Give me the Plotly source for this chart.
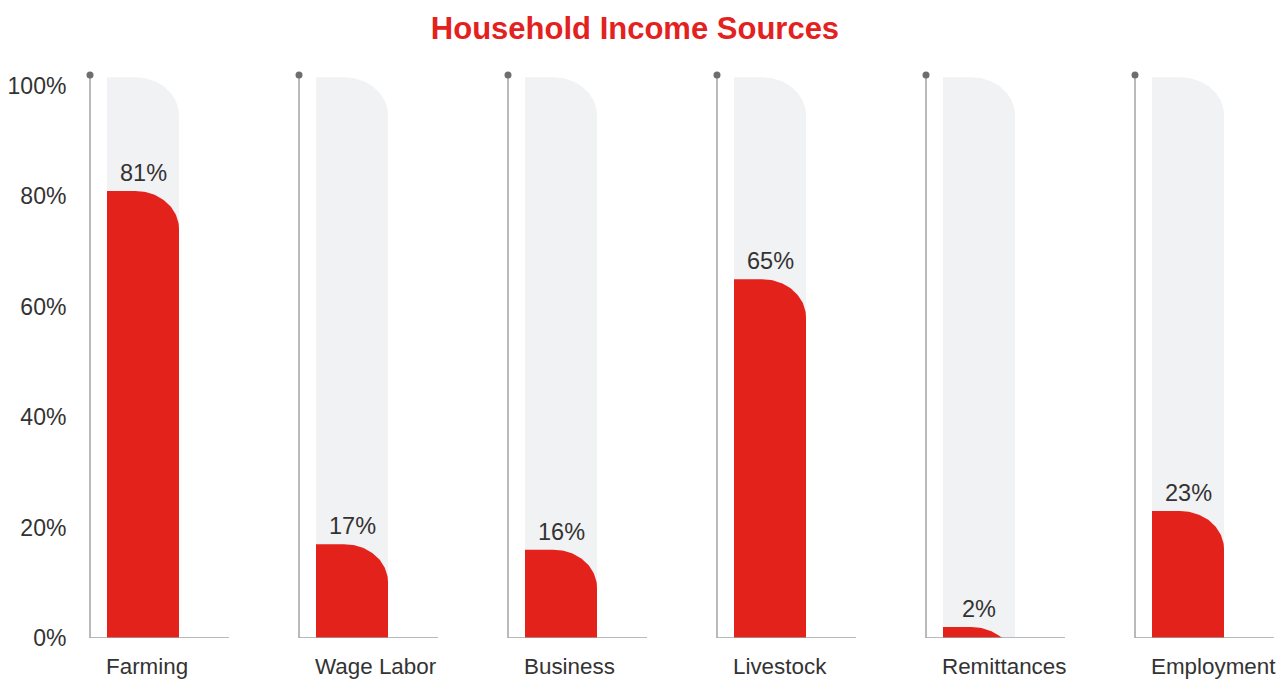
import numpy as np
import plotly.graph_objects as go

# ---- data ----
categories = ["Farming", "Wage Labor", "Business", "Livestock", "Remittances", "Employment"]
values = [81, 17, 16, 65, 2, 23]
y_ticks = [0, 20, 40, 60, 80, 100]
y_tick_labels = ["0%", "20%", "40%", "60%", "80%", "100%"]

# ---- style / geometry ----
RED = "#E3221B"
GREY_BG = "#F1F2F4"
AXIS_GREY = "#A3A3A3"
DOT_GREY = "#6E6E6E"
TEXT = "#333333"
FONT = "Liberation Sans, Arial, sans-serif"

W, H = 1288, 691
M_L, M_R, M_T, M_B = 80, 8, 75, 53
PX_PER_UNIT_X = 209.0
Y_MAX = 102.0
px_per_y = (H - M_T - M_B) / Y_MAX

bar_half = 36 / PX_PER_UNIT_X
axis_off = -53 / PX_PER_UNIT_X
base_end = 86 / PX_PER_UNIT_X
bg_top = 101.6
rx = 44 / PX_PER_UNIT_X
ry = 38 / px_per_y

x0 = -(143 - M_L) / PX_PER_UNIT_X
x1 = x0 + (W - M_L - M_R) / PX_PER_UNIT_X


def rounded_path(xc, top):
    xl, xr = xc - bar_half, xc + bar_half
    cx, cy = xr - rx, top - ry
    t = np.linspace(np.pi / 2, 0, 40)
    ax = cx + rx * np.cos(t)
    ay = np.maximum(cy + ry * np.sin(t), 0)
    xs = [xl, xl] + list(ax) + [xr, xl]
    ys = [0, top] + list(ay) + [0, 0]
    return xs, ys


fig = go.Figure()

for i, (cat, v) in enumerate(zip(categories, values)):
    xs, ys = rounded_path(i, bg_top)
    fig.add_trace(go.Scatter(x=xs, y=ys, fill="toself", fillcolor=GREY_BG,
                             line=dict(width=0), mode="lines", hoverinfo="skip",
                             showlegend=False))
for i, (cat, v) in enumerate(zip(categories, values)):
    xs, ys = rounded_path(i, v)
    fig.add_trace(go.Scatter(x=xs, y=ys, fill="toself", fillcolor=RED,
                             line=dict(width=0), mode="lines", hoverinfo="text",
                             text=f"{cat}: {v}%", showlegend=False))

for i in range(len(categories)):
    ax_x = i + axis_off
    # vertical axis line
    fig.add_trace(go.Scatter(x=[ax_x, ax_x], y=[0, Y_MAX], mode="lines",
                             line=dict(color=AXIS_GREY, width=1.5),
                             hoverinfo="skip", showlegend=False, cliponaxis=False))
    # baseline
    fig.add_trace(go.Scatter(x=[ax_x, i + base_end], y=[0, 0], mode="lines",
                             line=dict(color=AXIS_GREY, width=1.5),
                             hoverinfo="skip", showlegend=False, cliponaxis=False))
    # top dot
    fig.add_trace(go.Scatter(x=[ax_x], y=[Y_MAX], mode="markers",
                             marker=dict(color=DOT_GREY, size=7),
                             hoverinfo="skip", showlegend=False, cliponaxis=False))

annotations = []
for i, (cat, v) in enumerate(zip(categories, values)):
    annotations.append(dict(x=i, y=v, xref="x", yref="y", text=f"{v}%",
                            showarrow=False, yanchor="middle", yshift=18,
                            font=dict(family=FONT, size=23.5, color=TEXT)))
    annotations.append(dict(x=i - bar_half - 0.015, y=0, xref="x", yref="y", text=cat,
                            showarrow=False, xanchor="left", yanchor="middle",
                            yshift=-28, font=dict(family=FONT, size=22.4, color=TEXT)))

fig.update_layout(
    width=W, height=H,
    margin=dict(l=M_L, r=M_R, t=M_T, b=M_B),
    paper_bgcolor="white", plot_bgcolor="white",
    title=dict(text="<b>Household Income Sources</b>", x=635 / W, xanchor="center",
               xref="container", yref="container", y=1 - 28 / H, yanchor="middle",
               font=dict(family=FONT, size=31, color="#E3221F")),
    xaxis=dict(range=[x0, x1], visible=False, fixedrange=True),
    yaxis=dict(range=[0, Y_MAX], tickvals=y_ticks, ticktext=y_tick_labels,
               showgrid=False, zeroline=False, showline=False,
               ticks="outside", ticklen=8, tickcolor="rgba(0,0,0,0)",
               tickfont=dict(family=FONT, size=23, color=TEXT), fixedrange=True),
    annotations=annotations,
)

fig.write_html("out.html")
